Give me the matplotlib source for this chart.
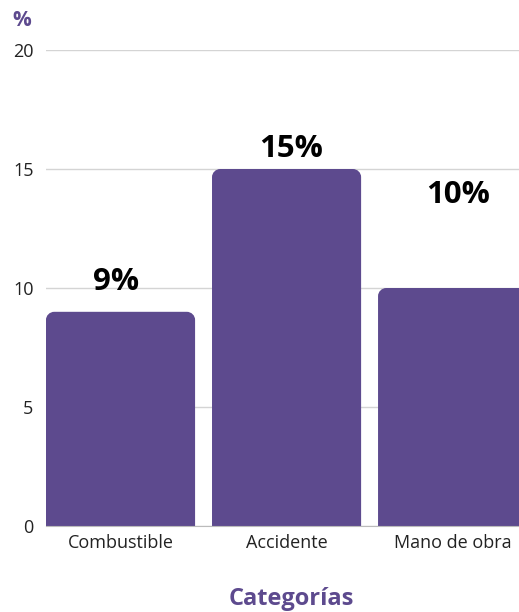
import matplotlib.pyplot as plt
from matplotlib.path import Path
from matplotlib.patches import PathPatch

# data
categories = ['Combustible', 'Accidente', 'Mano de obra']
values = [9, 15, 10]
labels = ['9%', '15%', '10%']
# label anchor positions as they appear in the picture (x, baseline y)
label_x = [-0.024, 1.027, 2.036]
label_y = [9.92, 15.5, 13.57]
yticks = [0, 5, 10, 15, 20]

purple = '#5d4a8e'
plt.rcParams['font.family'] = ['Open Sans', 'DejaVu Sans']

fig = plt.figure(figsize=(5.19, 6.12), dpi=100)
ax = fig.add_axes([0.0886, 0.1405, 0.9114, 0.7778])

bars = ax.bar(range(len(categories)), values, width=0.898, color=purple)


def rounded_top(x0, w, h, rx, ry):
    k = 0.5523
    x1 = x0 + w
    verts = [(x0, 0), (x0, h - ry),
             (x0, h - ry + k * ry), (x0 + rx - k * rx, h), (x0 + rx, h),
             (x1 - rx, h),
             (x1 - rx + k * rx, h), (x1, h - ry + k * ry), (x1, h - ry),
             (x1, 0), (x0, 0)]
    codes = [Path.MOVETO, Path.LINETO,
             Path.CURVE4, Path.CURVE4, Path.CURVE4,
             Path.LINETO,
             Path.CURVE4, Path.CURVE4, Path.CURVE4,
             Path.LINETO, Path.CLOSEPOLY]
    return Path(verts, codes)


# swap plain bars for bars with rounded top corners
for b in bars:
    b.set_visible(False)
    p = rounded_top(b.get_x(), b.get_width(), b.get_height(), 0.05, 0.34)
    ax.add_patch(PathPatch(p, facecolor=purple, edgecolor='none', zorder=2))

for x, y, t in zip(label_x, label_y, labels):
    ax.text(x, y, t, ha='center', va='baseline', fontsize=22.5,
            fontweight='bold', color='black')

ax.set_xlim(-0.449, 2.40)
ax.set_ylim(0, 20)
ax.set_yticks(yticks)
ax.set_xticks(range(len(categories)))
ax.set_xticklabels(categories)
ax.tick_params(axis='both', length=0, labelsize=13, colors='#222222')
ax.tick_params(axis='y', pad=9)
ax.tick_params(axis='x', pad=6)
ax.grid(axis='y', color='#d4d4d4', linewidth=1)
ax.set_axisbelow(True)
for s in ['top', 'right', 'left']:
    ax.spines[s].set_visible(False)
ax.spines['bottom'].set_color('#bbbbbb')

fig.text(22 / 519, 1 - 20 / 612, '%', ha='center', va='center',
         fontsize=15, fontweight='bold', color=purple)
fig.text(291 / 519, 1 - 599 / 612, 'Categorías', ha='center', va='center',
         fontsize=17, fontweight='bold', color=purple)

fig.savefig('out.png', dpi=100)
